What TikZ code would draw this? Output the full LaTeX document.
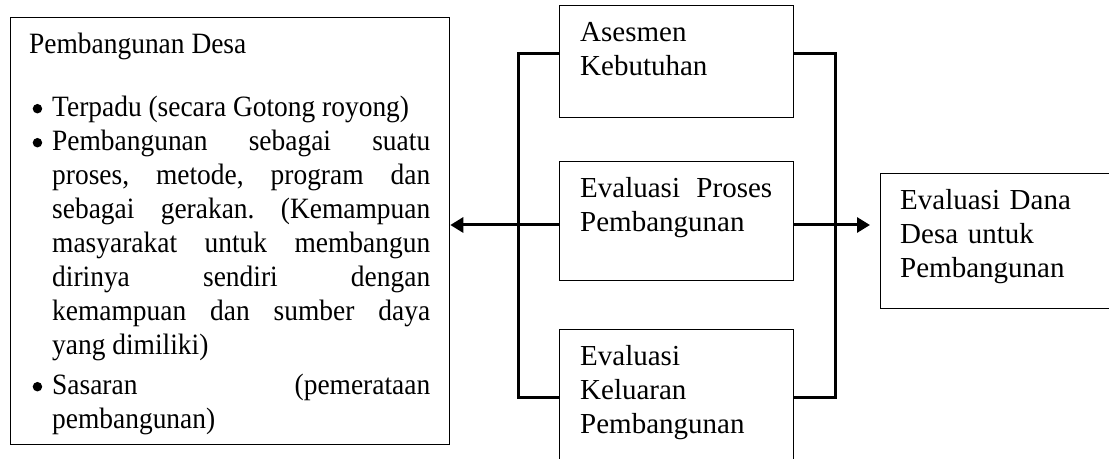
\documentclass[tikz,border=0pt]{standalone}
\usepackage{fontspec}
\setmainfont{Liberation Serif}
\newfontfamily\leftfont{Liberation Serif}[FakeStretch=0.93]
\usetikzlibrary{arrows.meta}
\newcommand{\mybullet}{\tikz[baseline=0pt,x=1bp,y=1bp]\fill (4.75,8) circle (4.75bp);}
\newcommand{\myitem}[1]{\noindent\hangindent=23bp\hangafter=1\makebox[23bp][l]{\hspace{3.5bp}\mybullet}#1\par}
\begin{document}
\begin{tikzpicture}[x=1bp,y=-1bp,
  box/.style={draw,line width=1.3bp,anchor=north west,inner sep=0pt},
  conn/.style={line width=3bp},
  txt/.style={anchor=base west,inner sep=0pt,align=justify,font=\fontsize{29bp}{34bp}\selectfont\frenchspacing},
  ltxt/.style={txt,font=\leftfont\fontsize{29.5bp}{34bp}\selectfont\frenchspacing},
  tip/.style={-{Triangle[length=13bp,width=15bp]}}]
\useasboundingbox (0,0) rectangle (1109,459);
% boxes
\node[box,minimum width=439bp,minimum height=427bp] (left) at (10,17) {};
\node[box,minimum width=234bp,minimum height=112bp] (b1) at (559,5) {};
\node[box,minimum width=234bp,minimum height=119bp] (b2) at (559,161) {};
\node[box,minimum width=234bp,minimum height=145bp] (b3) at (559,329) {};
\node[box,minimum width=245bp,minimum height=135bp] (rbox) at (880,173) {};
% texts
\node[ltxt,text width=401bp] (lefttext) at (29,54) {%
Pembangunan Desa\par\vspace{28.7bp}
\myitem{Terpadu (secara Gotong royong)}
\myitem{Pembangunan sebagai suatu\linebreak proses, metode, program dan\linebreak sebagai gerakan. (Kemampuan\linebreak masyarakat untuk membangun\linebreak dirinya sendiri dengan\linebreak kemampuan dan sumber daya\linebreak yang dimiliki)}
\vspace{6bp}
\myitem{Sasaran (pemerataan\linebreak pembangunan)}};
\node[txt,text width=192bp] (t1) at (580,42) {Asesmen\par Kebutuhan};
\node[txt,text width=192bp] (t2) at (580,198) {Evaluasi Proses\linebreak Pembangunan};
\node[txt,text width=192bp] (t3) at (580,366) {Evaluasi\par Keluaran\par Pembangunan};
\node[txt,text width=205bp,align=left] (t4) at (900,210) {Evaluasi Dana\\ Desa untuk\\ Pembangunan};
% connectors
\coordinate (lt) at (518,54);
\coordinate (lm) at (518,225);
\coordinate (lb) at (518,398);
\coordinate (rt) at (835,54);
\coordinate (rm) at (835,225);
\coordinate (rb) at (835,398);
\draw[conn] (b1.west |- lt) -- (lt) -- (lb) -- (b3.west |- lb);
\draw[conn,tip] (b2.west |- lm) -- (left.east |- lm);
\draw[conn] (b1.east |- rt) -- (rt) -- (rb) -- (b3.east |- rb);
\draw[conn] (b2.east |- rm) -- (rm);
\draw[conn,tip,shorten >=10bp] (rm) -- (rbox.west |- rm);
\end{tikzpicture}
\end{document}
